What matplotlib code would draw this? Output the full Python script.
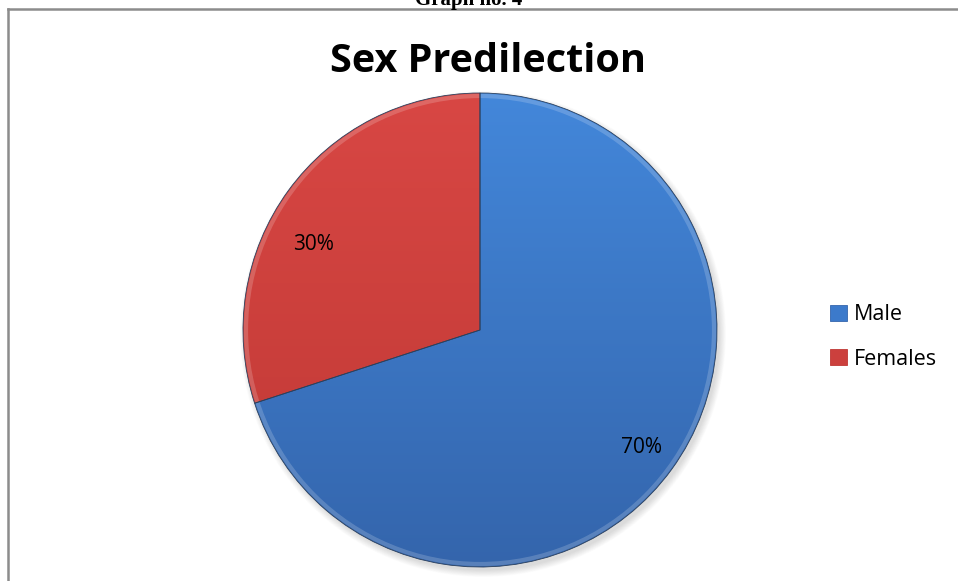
import numpy as np
from matplotlib import pyplot as plt
from matplotlib.patches import Patch, Circle
from matplotlib.lines import Line2D

# Datos del gráfico
sexos = ["Male", "Females"]
porcentajes = [70, 30]
colores = ["#3c7acb", "#cc403d"]
claros = ["#4387da", "#d84744"]
oscuros = ["#3465ac", "#bf3834"]

W, H = 958, 581
fig = plt.figure(figsize=(W / 100, H / 100), dpi=100)
ax = fig.add_axes([0, 0, 1, 1])

cx, cy, r = 480, 251, 237

# Sombra suave debajo del pastel
for i in range(12):
    ax.add_patch(Circle((cx + 3, cy - 4), r + 6 - i * 0.6, color="black",
                        alpha=0.012, lw=0, zorder=0))

wedges, textos, autotextos = ax.pie(
    porcentajes, colors=colores, startangle=90, counterclock=False,
    center=(cx, cy), radius=r, autopct="%d%%", pctdistance=0.84,
    wedgeprops=dict(edgecolor="#2a3f5c", linewidth=0.6),
    textprops=dict(fontsize=15, family="Open Sans", color="black"))

# Degradado vertical en cada sector (más claro arriba)
grad = np.linspace(0, 1, 256).reshape(-1, 1)
for w, c1, c2 in zip(wedges, claros, oscuros):
    a = np.array(plt.matplotlib.colors.to_rgb(c1))
    b = np.array(plt.matplotlib.colors.to_rgb(c2))
    img = a[None, None, :] * (1 - grad[:, :, None]) + b[None, None, :] * grad[:, :, None]
    im = ax.imshow(img, extent=(cx - r, cx + r, cy - r, cy + r), origin="upper",
                   zorder=1.5, aspect="auto")
    im.set_clip_path(w)
    # brillo en el borde
    borde = Circle((cx, cy), r - 3, fill=False, ec="white", lw=3, alpha=0.18, zorder=1.6)
    ax.add_patch(borde)
    borde.set_clip_path(w)

for w in wedges:
    w.set_zorder(1.7)
    w.set_facecolor("none")

# Etiqueta de 30% un poco desplazada
ang = np.deg2rad(153)
autotextos[1].set_position((cx + 0.79 * r * np.cos(ang), cy + 0.79 * r * np.sin(ang)))
for t in autotextos:
    t.set_zorder(3)

ax.set_xlim(0, W)
ax.set_ylim(0, H)
ax.set_aspect("equal")
ax.axis("off")

# Marco del área del gráfico
ax.add_line(Line2D([8, W], [572, 572], color="#8c8c8c", lw=1.8))
ax.add_line(Line2D([8, 8], [0, 572], color="#8c8c8c", lw=1.8))

ax.text(488, 519, "Sex Predilection", ha="center", va="center",
        fontsize=28.5, fontweight="bold", family="Open Sans")
ax.text(469, 576, "Graph no. 4", ha="center", va="baseline",
        fontsize=15, fontweight="bold", family="Liberation Serif")

manejadores = [Patch(facecolor=c, edgecolor=o, lw=0.6) for c, o in zip(colores, oscuros)]
fig.legend(manejadores, sexos, loc="center left", bbox_to_anchor=(811 / W, 1 - 337 / H),
           frameon=False, prop=dict(family="Open Sans", size=15.5),
           handlelength=0.75, handleheight=0.75, handletextpad=0.35, labelspacing=1.1)

fig.savefig("out.png", dpi=100)
